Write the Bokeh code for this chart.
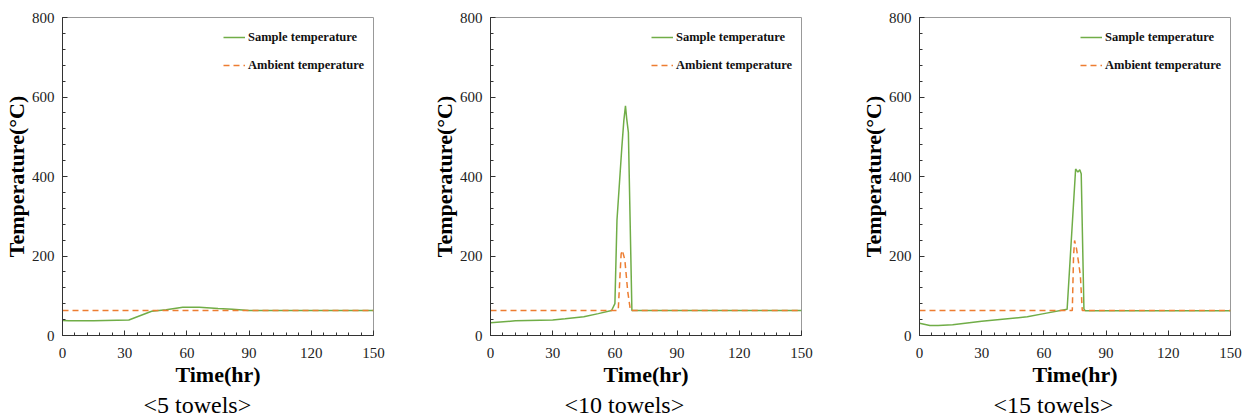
from bokeh.plotting import figure
from bokeh.layouts import row
from bokeh.models import Range1d, SingleIntervalTicker, Legend, LegendItem, Title
from bokeh.embed import file_html
from bokeh.resources import INLINE

# ---- data ----
t5 = [0, 3, 15, 32, 43, 50, 58, 66, 75, 82, 90, 150]
s5 = [38, 37, 37, 39, 61, 65, 71, 71, 68, 66, 63, 63]
ta5 = [0, 150]
a5 = [63, 63]

t10 = [0, 12, 30, 36, 45, 52, 58.4, 60, 61, 63.3, 64.3, 65.1, 65.7, 66.5, 68.2, 80, 150]
s10 = [32, 37, 39, 42, 47, 55, 63, 80, 290, 470, 540, 578, 545, 511, 63, 63, 63]
ta10 = [0, 61.6, 63.0, 63.6, 64.8, 66.2, 67.5, 150]
a10 = [63, 63, 205, 214, 190, 110, 63, 63]

t15 = [0, 5, 9, 16, 30, 52, 60, 71.2, 75.3, 76.4, 77.3, 78.0, 79.3, 80, 150]
s15 = [31, 25, 25, 27, 36, 47, 55, 66, 419, 411, 417, 407, 67, 62, 62]
ta15 = [0, 73.7, 74.3, 74.8, 75.7, 76.8, 77.6, 78.5, 150]
a15 = [63, 63, 200, 239, 219, 181, 150, 63, 63]

subtitles = ["<5 towels>", "<10 towels>", "<15 towels>"]
x_ticks_interval = 30
y_ticks_interval = 200

GREEN = "#70AD47"
ORANGE = "#ED7D31"
SERIF = "Liberation Serif"


def make_panel(t, s, ta, a, subtitle, right_border, sub_offset):
    p = figure(frame_width=311, frame_height=318, output_backend="svg", toolbar_location=None,
               x_range=Range1d(0, 150), y_range=Range1d(0, 800),
               min_border_left=62, min_border_right=right_border,
               min_border_top=17, min_border_bottom=60)
    p.background_fill_color = "white"
    p.border_fill_color = "white"
    p.outline_line_color = "#999999"
    p.xgrid.visible = False
    p.ygrid.visible = False

    p.xaxis.ticker = SingleIntervalTicker(interval=x_ticks_interval, num_minor_ticks=5)
    p.yaxis.ticker = SingleIntervalTicker(interval=y_ticks_interval, num_minor_ticks=5)
    for ax in (p.xaxis, p.yaxis):
        ax.major_tick_in = 5
        ax.major_tick_out = 0
        ax.minor_tick_in = 3
        ax.minor_tick_out = 0
        ax.axis_line_color = "#333333"
        ax.major_tick_line_color = "#333333"
        ax.minor_tick_line_color = "#333333"
        ax.major_label_text_font = SERIF
        ax.major_label_text_font_size = "15px"
        ax.major_label_text_color = "#222222"
        ax.axis_label_text_font = SERIF
        ax.axis_label_text_font_size = "22px"
        ax.axis_label_text_font_style = "bold"
        ax.axis_label_text_color = "#000000"
    p.xaxis.axis_label = "Time(hr)"
    p.yaxis.axis_label = "Temperature(°C)"
    p.xaxis.major_label_standoff = 12
    p.yaxis.major_label_standoff = 8
    p.xaxis.axis_label_standoff = 1
    p.yaxis.axis_label_standoff = 0

    r1 = p.line(t, s, line_color=GREEN, line_width=1.5)
    r2 = p.line(ta, a, line_color=ORANGE, line_width=1.5, line_dash="6 4")

    legend = Legend(items=[LegendItem(label="Sample temperature", renderers=[r1]),
                           LegendItem(label="Ambient temperature", renderers=[r2])],
                    location=(161, 260))
    legend.background_fill_alpha = 0
    legend.border_line_alpha = 0
    legend.padding = 0
    legend.margin = 0
    legend.spacing = 8
    legend.glyph_width = 22
    legend.glyph_height = 20
    legend.label_height = 20
    legend.label_standoff = 3
    legend.label_text_font = SERIF
    legend.label_text_font_size = "12.5px"
    legend.label_text_font_style = "bold"
    legend.label_text_color = "#111111"
    p.add_layout(legend, "center")

    title = Title(text=subtitle, align="left", text_font=SERIF, text_font_size="24px",
                  text_font_style="normal", text_color="#000000", standoff=0,
                  offset=sub_offset)
    p.add_layout(title, "below")
    return p


p1 = make_panel(t5, s5, ta5, a5, subtitles[0], 55, 81)
p2 = make_panel(t10, s10, ta10, a10, subtitles[1], 56, 74)
p3 = make_panel(t15, s15, ta15, a15, subtitles[2], 12, 74)

layout = row(p1, p2, p3, spacing=0)
open("out.html", "w").write(file_html(layout, INLINE))
